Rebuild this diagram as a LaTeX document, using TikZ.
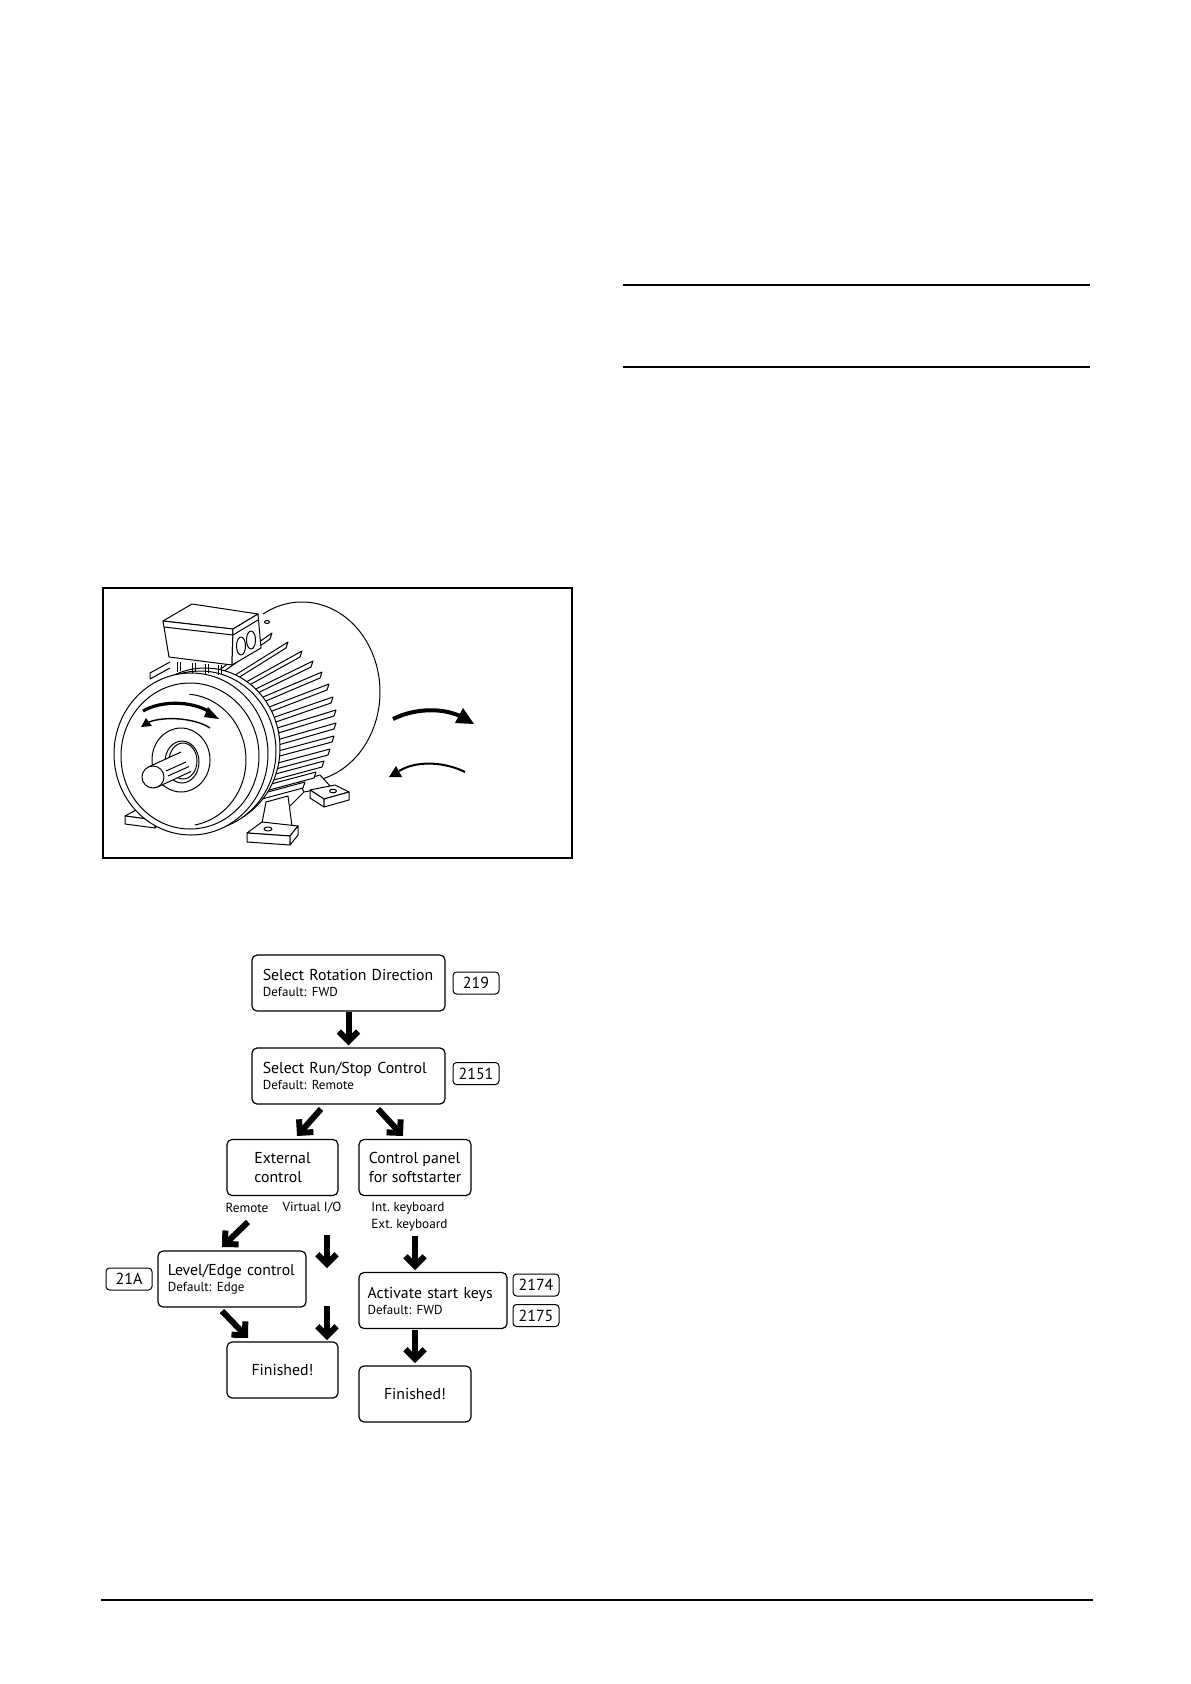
\documentclass[tikz,border=0pt]{standalone}
\usepackage{fontspec}
\setmainfont{PT Sans}
\usetikzlibrary{arrows.meta}
\frenchspacing
\newcommand\msz{\fontsize{7.9}{9.5}\selectfont}
\newcommand\ssz{\fontsize{6.5}{7.5}\selectfont}
\newcommand\lsz{\fontsize{6.6}{7.5}\selectfont}
\newcommand\tsz{\fontsize{8}{9}\selectfont}
\begin{document}
\begin{tikzpicture}[x=0.5pt,y=-0.5pt,
  rule/.style={line width=0.7pt},
  fbox/.style={draw, rounded corners=2.5pt, line width=0.6pt, minimum height=28pt, inner ysep=0pt, inner xsep=2pt, font=\msz, align=left},
  tagbox/.style={draw, rounded corners=1.8pt, line width=0.5pt, minimum width=23pt, minimum height=11pt, inner sep=0pt, font=\tsz},
  lbl/.style={font=\lsz, inner sep=0pt},
  bigarrow/.style={line width=3pt, -{Straight Barb[length=4.8pt,width=9.6pt,sharp]}},
  mline/.style={line width=0.5pt, line join=round},
  wfill/.style={mline, draw=black, fill=white},
]
\useasboundingbox (0,0) rectangle (1190,1684);

% ---------- page rules ----------
\draw[rule] (623,285) -- (1090,285);
\draw[rule] (623,367) -- (1090,367);
\draw[rule] (101,1600) -- (1093,1600);

% ---------- motor figure ----------
\draw[line width=0.7pt] (103,588) rectangle (572,858);

% fan cover
\draw[mline] (302,692) ++(240:78 and 90) arc[start angle=240,end angle=435,x radius=78,y radius=90];
% back-right foot with leg
\draw[wfill] (304,792) -- (298,781) -- (320,775) -- (331,787) -- cycle;
\draw[wfill] (310,790) -- (335,785) -- (349,792) -- (324,799) -- cycle;
\draw[wfill] (310,790) -- (310,798) -- (324,807) -- (324,799) -- cycle;
\draw[wfill] (324,799) -- (349,792) -- (349,800) -- (324,807) -- cycle;
\draw[mline] (333,791) ellipse[x radius=3.5,y radius=1.8];
% fins
\foreach \bx/\by/\a in {272/633/35, 288/642/32, 302/651/29, 313/661/26, 322/672/23, 329/684/21, 333/697/19, 336/710/17, 336/723/16, 334/736/15, 330/749/15, 324/761/15, 316/772/15, 305/782/15}{
  \fill[white] ({\bx-100*cos(\a)},{\by+100*sin(\a)}) -- (\bx,\by) -- ++(-2,6) -- ++({-100*cos(\a)},{100*sin(\a)}) -- cycle;
  \draw[mline] ({\bx-100*cos(\a)},{\by+100*sin(\a)}) -- (\bx,\by) -- ++(-2,6) -- ++({-100*cos(\a)},{100*sin(\a)});
}
\draw[mline] (283,813) -- (304,792);
% front-right foot with leg
\draw[wfill] (262,823) -- (266,802) -- (288,796) -- (292,826) -- cycle;
\draw[wfill] (247,833) -- (262,822) -- (298,826) -- (290,836) -- cycle;
\draw[wfill] (247,833) -- (290,836) -- (290,845) -- (247,842) -- cycle;
\draw[wfill] (290,836) -- (298,826) -- (298,835) -- (290,845) -- cycle;
\draw[mline] (268,829) ellipse[x radius=4,y radius=2];
% left foot
\draw[wfill] (125,816) -- (138,809) -- (162,812) -- (155,820) -- cycle;
\draw[wfill] (125,816) -- (155,820) -- (155,828) -- (125,824) -- cycle;
\draw[wfill] (155,820) -- (162,812) -- (162,820) -- (155,828) -- cycle;
\draw[mline] (142,813) ellipse[x radius=3.5,y radius=1.6];

% front end shield
\draw[wfill] (205,748) ellipse[x radius=75,y radius=80];
\draw[wfill] (200,751) ellipse[x radius=76,y radius=80];
\draw[wfill] (191,754) ellipse[x radius=77,y radius=81];
\draw[mline] (190,756) ellipse[x radius=69,y radius=73];
\draw[mline] (184,760) ++(275:62 and 66) arc[start angle=275,end angle=440,x radius=62,y radius=66];
% hub
\draw[wfill] (181,760) ellipse[x radius=29,y radius=32];
\draw[mline] (182,762) ellipse[x radius=17,y radius=21];
\draw[mline] (183,761) ellipse[x radius=14,y radius=18];
% shaft
\fill[white] (148.4,767) -- (184.8,750.3) -- (194,770.3) -- (157.6,787) -- cycle;
\draw[mline] (148.4,767) -- (181,752);
\draw[mline] (157.6,787) -- (191,771.5);
\draw[mline] (166,771) -- (186,762);
\draw[mline] (168,776) -- (189,766.5);
\draw[wfill] (153,777) ellipse[x radius=11,y radius=11];

% terminal box base and pillars
\draw[mline] (150,679) -- (150,673) -- (170,662);
\draw[mline] (150,679) -- (170,668);
\foreach \px/\py in {177/662, 192/663, 205/664, 218/665}{
  \draw[mline] (\px,\py) -- (\px,{\py+10});
  \draw[mline] ({\px+3},\py) -- ({\px+3},{\py+9});
}
% terminal box
\draw[wfill] (163,621) -- (192,604) -- (258,614) -- (233,629) -- cycle;
\draw[wfill] (163,621) -- (233,629) -- (232,665) -- (169,657) -- cycle;
\draw[wfill] (233,629) -- (258,614) -- (261,648) -- (232,665) -- cycle;
\draw[mline] (164,627) -- (233,635) -- (258,620);
\draw[mline] (241,646) ellipse[x radius=4.5,y radius=9];
\draw[mline] (251,640) ellipse[x radius=4.5,y radius=9];
\draw[mline] (267,622) ellipse[x radius=2.5,y radius=1.5];

% rotation arrows on the shield
\draw[line width=1.6pt] (143,711) .. controls (160,701) and (190,700) .. (210,712);
\fill (208,707) -- (219,719) -- (204,717) -- cycle;
\draw[line width=0.7pt] (210,728) .. controls (195,718) and (165,716) .. (149,722);
\fill (141,727) -- (146,718) -- (152,726) -- cycle;
% rotation arrows beside the motor
\draw[line width=2pt] (393,719) .. controls (413,709) and (440,707) .. (460,716);
\fill (463,708) -- (474,724) -- (455,723) -- cycle;
\draw[line width=1pt] (465,772) .. controls (445,762) and (417,760) .. (399,771);
\fill (389,777) -- (396,766) -- (402,777) -- cycle;

% ---------- flowchart ----------
\node[fbox, minimum width=96.5pt, text width=85.7pt, inner xsep=5.4pt] (rot) at (348.5,983)
  {\mbox{Select Rotation Direction}\\[-1.5pt]{\ssz Default: FWD}};
\node[tagbox] (t219) at (476,983) {219};
\node[fbox, minimum width=96.5pt, text width=85.7pt, inner xsep=5.4pt] (run) at (348.5,1076)
  {\mbox{Select Run/Stop Control}\\[-1.5pt]{\ssz Default: Remote}};
\node[tagbox] (t2151) at (476,1073.5) {2151};
\node[fbox, minimum width=55.5pt] (ext) at (282.5,1167.5) {External\\control};
\node[fbox, minimum width=56pt] (pan) at (415,1167.5) {Control panel\\for softstarter};
\node[lbl] (lrem) at (247,1208) {Remote};
\node[lbl] (lvir) at (312,1208) {Virtual I/O};
\node[lbl, anchor=west] (lint) at (371,1208) {Int. keyboard};
\node[lbl, anchor=west] (lext) at (371,1225) {Ext. keyboard};
\node[fbox, minimum width=74pt, text width=64.2pt, inner xsep=4.9pt] (lev) at (232,1279)
  {\mbox{Level/Edge control}\\[-1.5pt]{\ssz Default: Edge}};
\node[tagbox] (t21A) at (129,1279) {21A};
\node[fbox, minimum width=74pt, text width=65.4pt, inner xsep=4.3pt] (act) at (433,1300.5)
  {\mbox{Activate start keys}\\[-1.5pt]{\ssz Default: FWD}};
\node[tagbox] (t2174) at (536,1285) {2174};
\node[tagbox] (t2175) at (536,1315.5) {2175};
\node[fbox, minimum width=55.5pt, align=center] (fin1) at (282.5,1370) {Finished!};
\node[fbox, minimum width=56pt, align=center] (fin2) at (415,1394) {Finished!};

\coordinate (a2s) at (321,1109); \coordinate (a2e) at (297,1136);
\coordinate (a3s) at (378,1109); \coordinate (a3e) at (403,1136);
\coordinate (a4s) at (248,1222); \coordinate (a4e) at (222,1247);
\coordinate (a5s) at (327,1235); \coordinate (a5e) at (327,1268);
\coordinate (a6s) at (415,1236); \coordinate (a6e) at (415,1270);
\coordinate (a7s) at (222,1311); \coordinate (a7e) at (248,1338);
\coordinate (a8s) at (327,1306); \coordinate (a8e) at (327,1340);
\coordinate (a9s) at (415,1330); \coordinate (a9e) at (415,1363);

\draw[bigarrow, shorten >=1pt] (rot) -- (run);
\draw[bigarrow] (a2s) -- (a2e);
\draw[bigarrow] (a3s) -- (a3e);
\draw[bigarrow] (a4s) -- (a4e);
\draw[bigarrow] (a5s) -- (a5e);
\draw[bigarrow] (a6s) -- (a6e);
\draw[bigarrow] (a7s) -- (a7e);
\draw[bigarrow] (a8s) -- (a8e);
\draw[bigarrow] (a9s) -- (a9e);
\end{tikzpicture}
\end{document}
